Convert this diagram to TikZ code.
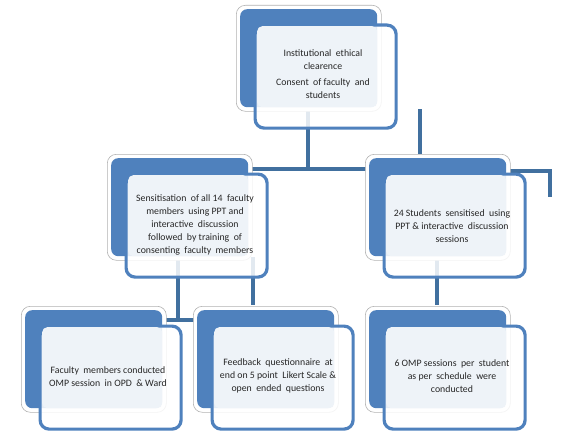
\documentclass[tikz,border=0pt]{standalone}
\usepackage{fontspec}
\setmainfont{Carlito}
\definecolor{accent}{HTML}{4F81BD}
\definecolor{linec}{HTML}{41709F}
\definecolor{lightf}{HTML}{EEF3F8}
\newcommand\flowbox[3]{%
  \node[outerbox] (#1-o) at (#2-4,#3-4) {};
  \node[bluebox]  (#1-b) at (#2,#3) {};
  \node[framebox] (#1-f) at (#2+13.5,#3+14.5) {};
  \node[lightbox] (#1-l) at (#2+17,#3+17) {};
}
\begin{document}
\begin{tikzpicture}[x=1pt,y=-1pt,
  outerbox/.style={draw=black!30,line width=0.6pt,fill=white,rounded corners=9pt,minimum width=145pt,minimum height=106pt,inner sep=0pt,anchor=north west},
  bluebox/.style={fill=accent,rounded corners=7pt,minimum width=137pt,minimum height=98pt,inner sep=0pt,anchor=north west},
  framebox/.style={draw=accent,line width=3.2pt,fill=white,fill opacity=0.85,draw opacity=1,rounded corners=9pt,minimum width=141pt,minimum height=103pt,inner sep=0pt,anchor=north west},
  lightbox/.style={fill=lightf,rounded corners=5pt,minimum width=120pt,minimum height=81pt,inner sep=0pt,anchor=north west},
  txt/.style={font=\fontsize{9.8}{13}\selectfont,align=center,text=black!85},
  conn/.style={draw=linec,line width=4pt}]
\useasboundingbox (0,0) rectangle (584,444);
% junction coordinates
\coordinate (j1) at (308,107);
\coordinate (j2) at (308,169);
\coordinate (h1) at (250,169);
\coordinate (h2) at (369,169);
\coordinate (r1) at (420,109);
\coordinate (r2) at (420,154);
\coordinate (s1) at (506,171);
\coordinate (s2) at (550,171);
\coordinate (s3) at (550,197);
\coordinate (a1) at (178,257);
\coordinate (a2) at (178,320);
\coordinate (a3) at (162,320);
\coordinate (a4) at (195,320);
\coordinate (b1) at (253,257);
\coordinate (b2) at (253,305);
\coordinate (c1) at (437,257);
\coordinate (c2) at (437,305);
% connectors
\draw[conn] (j1) -- (j2);
\draw[conn] (h1) -- (h2);
\draw[conn] (r1) -- (r2);
\draw[conn] (s1) -- (s2) -- (s3);
\draw[conn] (a1) -- (a2);
\draw[conn] (a3) -- (a4);
\draw[conn] (b1) -- (b2);
\draw[conn] (c1) -- (c2);
% boxes
\flowbox{T}{240}{9}
\flowbox{ML}{111}{158}
\flowbox{MR}{369}{158}
\flowbox{BL}{25}{310}
\flowbox{BM}{197}{310}
\flowbox{BR}{369}{310}
% texts
\node[txt] (T-t) at (323,74) {Institutional\ \ ethical\\clearence\\[3pt]Consent\ \ of faculty\ \ and\\students};
\node[txt] (ML-t) at (195,225) {Sensitisation\ \ of all 14\ \ faculty\\members\ \ using PPT and\\interactive\ \ discussion\\followed\ \ by training\ \ of\\consenting\ \ faculty\ \ members};
\node[txt] (MR-t) at (452,226) {24 Students\ \ sensitised\ \ using\\PPT \& interactive\ \ discussion\\sessions};
\node[txt] (BL-t) at (108,377) {Faculty\ \ members conducted\\OMP session\ \ in OPD\ \ \& Ward};
\node[txt] (BM-t) at (278,376) {Feedback\ \ questionnaire\ \ at\\end on 5 point\ \ Likert Scale \&\\open\ \ ended\ \ questions};
\node[txt] (BR-t) at (452,376) {6 OMP sessions\ \ per\ \ student\\as per\ \ schedule\ \ were\\conducted};
\end{tikzpicture}
\end{document}
